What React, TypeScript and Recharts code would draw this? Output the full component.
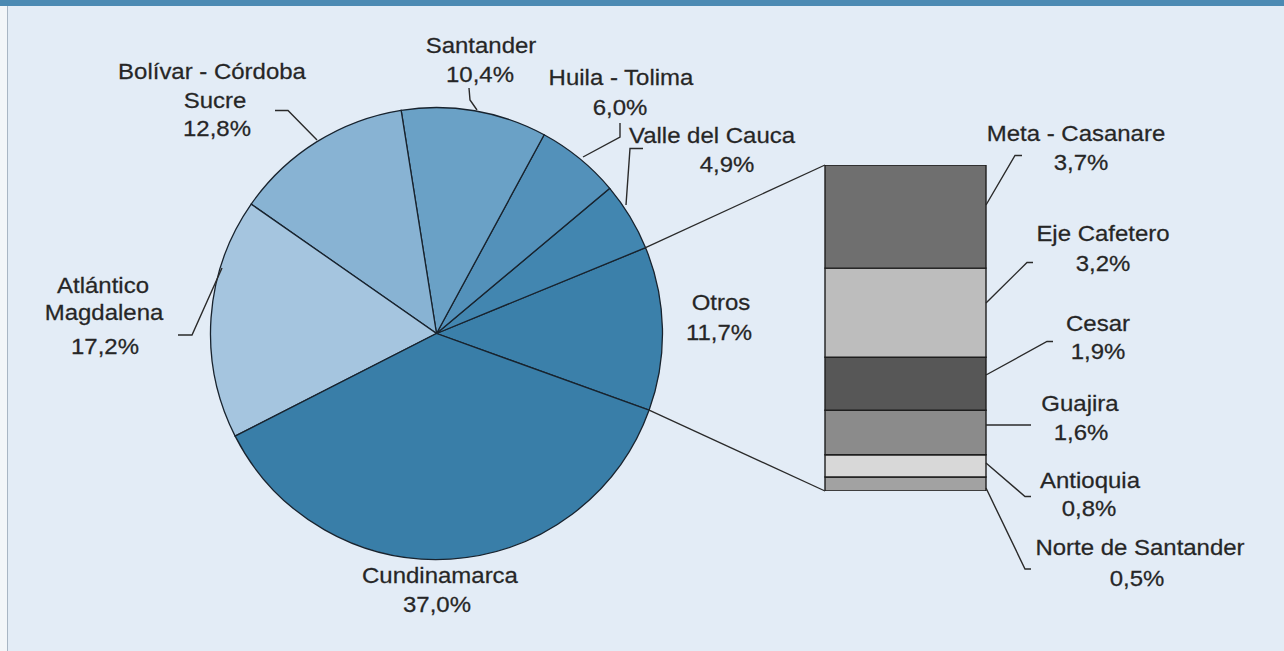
import React from "react";
import { Bar, BarChart, Cell, Pie, PieChart, XAxis, YAxis } from "recharts";

// main pie, counter-clockwise starting with "Otros"
const REGIONS = [
  "Otros",
  "Valle del Cauca",
  "Huila - Tolima",
  "Santander",
  "Bolívar - Córdoba\nSucre",
  "Atlántico\nMagdalena",
  "Cundinamarca",
];
const SHARES = [11.7, 4.9, 6.0, 10.4, 12.8, 17.2, 37.0];
const PIE_COLORS = [
  "#3b80aa",
  "#4286b0",
  "#5391ba",
  "#6aa1c6",
  "#88b3d3",
  "#a5c5df",
  "#397ea8",
];

// breakdown of "Otros", bottom to top
const OTROS = [
  "Norte de Santander",
  "Antioquia",
  "Guajira",
  "Cesar",
  "Eje Cafetero",
  "Meta - Casanare",
];
const OTROS_SHARES = [0.5, 0.8, 1.6, 1.9, 3.2, 3.7];
const OTROS_COLORS = ["#a2a2a2", "#d8d8d8", "#8b8b8b", "#575757", "#bdbdbd", "#6f6f6f"];

const W = 1284;
const H = 651;
const CX = 436.5;
const CY = 333.5;
const R = 226;
const START = -19.8;
const BAR_X0 = 825;
const BAR_X1 = 986;
const BAR_TOP = 165;
const BAR_BOTTOM = 491;

const TEXT = "#262626";
const LINE = "#2a2a2a";
const FONT = "'Liberation Sans', Arial, Helvetica, sans-serif";

type Pt = [number, number];
interface LabelLayout {
  lines: Pt[];
  leader?: Pt[];
}

const LABELS: Record<string, LabelLayout> = {
  Otros: { lines: [[721, 310], [719, 340]] },
  "Valle del Cauca": {
    lines: [[712, 142.5], [727, 171.5]],
    leader: [[643, 148.5], [630, 148.5], [626, 205]],
  },
  "Huila - Tolima": {
    lines: [[621, 85], [620, 115]],
    leader: [[620, 123], [620, 137], [583, 157]],
  },
  Santander: {
    lines: [[481, 52.5], [480, 82]],
    leader: [[469, 88], [470, 100], [477, 110]],
  },
  "Bolívar - Córdoba\nSucre": {
    lines: [[212, 78.5], [215, 107.5], [217, 136]],
    leader: [[275, 110.5], [288, 110.5], [317, 140]],
  },
  "Atlántico\nMagdalena": {
    lines: [[103, 293], [104, 320], [105, 354]],
    leader: [[178, 335], [192, 335], [222, 268]],
  },
  Cundinamarca: { lines: [[440, 582.5], [437, 611.5]] },
  "Meta - Casanare": {
    lines: [[1076, 141], [1081, 169.5]],
    leader: [[986, 205], [1015, 155.5], [1022, 155.5]],
  },
  "Eje Cafetero": {
    lines: [[1103, 241], [1103, 271]],
    leader: [[986, 303], [1027, 262.5], [1033, 262.5]],
  },
  Cesar: {
    lines: [[1098, 330.5], [1098, 358.5]],
    leader: [[986, 375], [1047, 341.5], [1053, 341.5]],
  },
  Guajira: {
    lines: [[1080, 411], [1081, 439.5]],
    leader: [[986, 425], [1031, 425]],
  },
  Antioquia: {
    lines: [[1090, 488], [1089, 516]],
    leader: [[986, 463], [1025, 496.5], [1031, 496.5]],
  },
  "Norte de Santander": {
    lines: [[1140, 555], [1137, 586]],
    leader: [[986, 488], [1025, 569], [1031, 569]],
  },
};

const fmt = (v: number) => v.toFixed(1).replace(".", ",") + "%";

const pieData = REGIONS.map((name, i) => ({ name, value: SHARES[i] }));
const barRow: Record<string, number | string> = { name: "Otros" };
OTROS.forEach((n, i) => {
  barRow[n] = OTROS_SHARES[i];
});
const otrosTotal = OTROS_SHARES.reduce((a, b) => a + b, 0);

function LabelText({ name, value }: { name: string; value: number }) {
  const layout = LABELS[name];
  const texts = [...name.split("\n"), fmt(value)];
  return (
    <g>
      {layout.leader && (
        <polyline
          points={layout.leader.map((p) => p.join(",")).join(" ")}
          fill="none"
          stroke={LINE}
          strokeWidth={1.4}
        />
      )}
      {texts.map((t, i) => (
        <text
          key={i}
          transform={`translate(${layout.lines[i][0]} ${layout.lines[i][1]}) scale(1.09 1)`}
          textAnchor="middle"
          fontSize={22}
          fontFamily={FONT}
          fill={TEXT}
          stroke={TEXT}
          strokeWidth={0.25}
        >
          {t}
        </text>
      ))}
    </g>
  );
}

export default function App() {
  const otrosDeg = (SHARES[0] / 100) * 360;
  const pt = (deg: number): Pt => [
    CX + R * Math.cos((deg * Math.PI) / 180),
    CY - R * Math.sin((deg * Math.PI) / 180),
  ];
  const top = pt(START + otrosDeg);
  const bottom = pt(START);

  const abs: React.CSSProperties = { position: "absolute", left: 0, top: 0 };

  return (
    <div
      style={{
        ...abs,
        width: W,
        height: H,
        background: "#e3ecf6",
        overflow: "hidden",
      }}
    >
      <div style={{ ...abs, width: W, height: 6, background: "#4c8ab3" }} />
      <div style={{ ...abs, top: 6, width: 7, height: H, background: "#f3f6f9" }} />
      <div style={{ ...abs, left: 7, top: 6, width: 1, height: H, background: "#a9b6c4" }} />

      <div style={abs}>
        <PieChart width={W} height={H} margin={{ top: 0, right: 0, bottom: 0, left: 0 }}>
          <Pie
            data={pieData}
            dataKey="value"
            nameKey="name"
            cx={CX}
            cy={CY}
            outerRadius={R}
            startAngle={START}
            endAngle={START + 360}
            stroke="#18232e"
            strokeWidth={1.3}
            isAnimationActive={false}
          >
            {pieData.map((_, i) => (
              <Cell key={i} fill={PIE_COLORS[i]} />
            ))}
          </Pie>
        </PieChart>
      </div>

      <div style={abs}>
        <BarChart
          width={W}
          height={H}
          data={[barRow]}
          barCategoryGap={0}
          margin={{ top: BAR_TOP, bottom: H - BAR_BOTTOM, left: BAR_X0, right: W - BAR_X1 }}
        >
          <XAxis dataKey="name" hide />
          <YAxis hide domain={[0, otrosTotal]} allowDataOverflow />
          {OTROS.map((n, i) => (
            <Bar
              key={n}
              dataKey={n}
              stackId="otros"
              fill={OTROS_COLORS[i]}
              stroke="#1e1e1e"
              strokeWidth={1.4}
              isAnimationActive={false}
            />
          ))}
        </BarChart>
      </div>

      <svg style={abs} width={W} height={H}>
        <line x1={top[0]} y1={top[1]} x2={BAR_X0} y2={BAR_TOP} stroke={LINE} strokeWidth={1.3} />
        <line x1={bottom[0]} y1={bottom[1]} x2={BAR_X0} y2={BAR_BOTTOM} stroke={LINE} strokeWidth={1.3} />
        {REGIONS.map((n, i) => (
          <LabelText key={n} name={n} value={SHARES[i]} />
        ))}
        {OTROS.map((n, i) => (
          <LabelText key={n} name={n} value={OTROS_SHARES[i]} />
        ))}
      </svg>
    </div>
  );
}
